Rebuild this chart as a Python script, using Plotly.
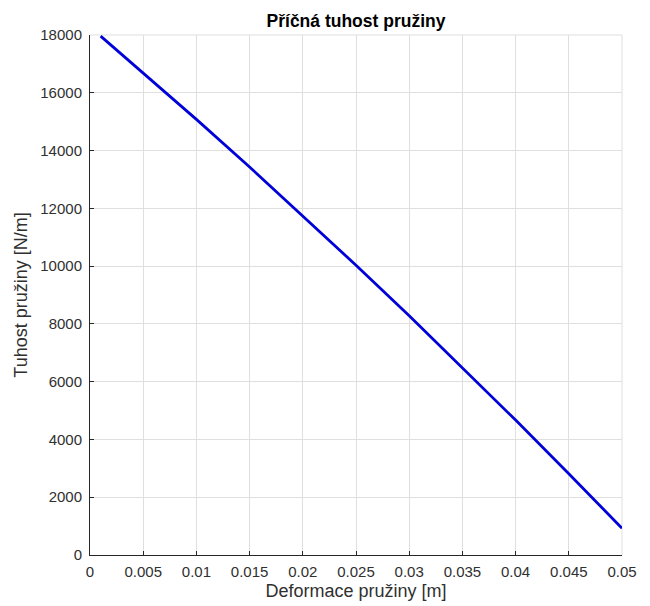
import plotly.graph_objects as go

deformace = [0.001, 0.005, 0.01, 0.015, 0.02, 0.025, 0.03, 0.035, 0.04, 0.045, 0.05]
tuhost = [17960, 16693, 15079, 13430, 11747, 10030, 8278, 6491, 4670, 2815, 925]

x_ticks = [0, 0.005, 0.01, 0.015, 0.02, 0.025, 0.03, 0.035, 0.04, 0.045, 0.05]
x_ticktext = ["0", "0.005", "0.01", "0.015", "0.02", "0.025", "0.03", "0.035", "0.04", "0.045", "0.05"]
y_ticks = [0, 2000, 4000, 6000, 8000, 10000, 12000, 14000, 16000, 18000]
y_ticktext = [str(v) for v in y_ticks]

title_text = "Příčná tuhost pružiny"
x_title = "Deformace pružiny [m]"
y_title = "Tuhost pružiny [N/m]"

FONT = "Liberation Sans, Arial, sans-serif"
AX = "#262626"
TXT = "#303030"
GRID = "#dfdfdf"

fig = go.Figure()
fig.add_trace(go.Scatter(x=deformace, y=tuhost, mode="lines",
                         line=dict(color="#0000d8", width=2.8),
                         showlegend=False, hoverinfo="skip"))

# page has an 8px body margin; the figure is offset accordingly
fig.update_layout(
    width=650, height=606,
    margin=dict(l=82, r=36, t=27, b=59),
    paper_bgcolor="white", plot_bgcolor="white",
    font=dict(family=FONT, size=14, color=TXT),
    title=dict(text="<b>" + title_text + "</b>", x=348 / 650, xanchor="center",
               y=1 - 13 / 606, yanchor="middle",
               font=dict(family=FONT, size=17.5, color="black")),
)
fig.update_xaxes(
    range=[0, 0.05], tickvals=x_ticks, ticktext=x_ticktext,
    showline=True, linecolor=AX, linewidth=1, mirror=False,
    ticks="inside", ticklen=4, tickcolor=AX,
    showgrid=True, gridcolor=GRID, gridwidth=1, zeroline=False,
    tickfont=dict(size=15, color=TXT), ticklabelstandoff=3,
    title=dict(text=x_title, font=dict(size=18, color=TXT), standoff=5),
)
fig.update_yaxes(
    range=[0, 18000], tickvals=y_ticks, ticktext=y_ticktext,
    showline=True, linecolor=AX, linewidth=1, mirror=False,
    ticks="inside", ticklen=4, tickcolor=AX,
    showgrid=True, gridcolor=GRID, gridwidth=1, zeroline=False,
    tickfont=dict(size=15, color=TXT), ticklabelstandoff=4,
    title=dict(text=y_title, font=dict(size=18, color=TXT), standoff=7),
)
fig.add_shape(type="line", xref="paper", yref="paper", x0=0, x1=1, y0=1, y1=1,
              line=dict(color=GRID, width=1), layer="below")
fig.add_shape(type="line", xref="paper", yref="paper", x0=1, x1=1, y0=0, y1=1,
              line=dict(color=GRID, width=1), layer="below")

fig.write_html("out.html")
